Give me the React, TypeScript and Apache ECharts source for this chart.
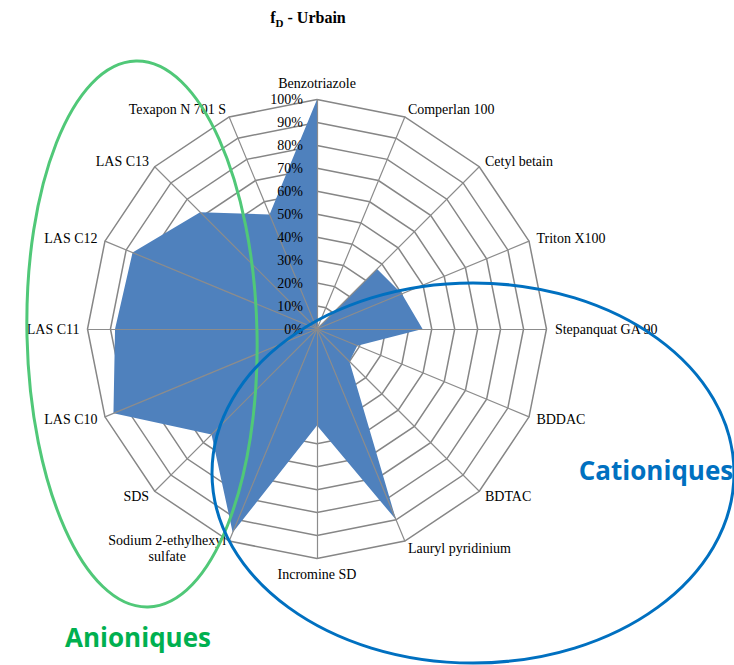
import React, { useEffect, useRef } from "react";
import * as echarts from "echarts";

const indicators = [
  "Benzotriazole",
  "Comperlan 100",
  "Cetyl betain",
  "Triton X100",
  "Stepanquat GA 90",
  "BDDAC",
  "BDTAC",
  "Lauryl pyridinium",
  "Incromine SD",
  "Sodium 2-ethylhexyl\nsulfate",
  "SDS",
  "LAS C10",
  "LAS C11",
  "LAS C12",
  "LAS C13",
  "Texapon N 701 S",
];
const values = [100, 0, 37, 40, 46, 19, 20, 90, 42, 96, 65, 96, 88, 87, 72, 54];
const groupLabels = ["Anioniques", "Cationiques"];

const FONT = "Times New Roman, Liberation Serif, serif";

export default function App() {
  const ref = useRef<HTMLDivElement>(null);
  useEffect(() => {
    if (!ref.current) return;
    const chart = echarts.init(ref.current, null, { renderer: "svg" });
    // ECharts places radar indicators counter-clockwise; reverse (keeping first) for clockwise order
    const order = [0, ...indicators.slice(1).map((_, i) => indicators.length - 1 - i)];
    const ind = order.map((i) => ({ name: indicators[i], max: 100, min: 0 }));
    const vals = order.map((i) => values[i]);
    const radius = 229.5;
    chart.setOption({
      animation: false,
      backgroundColor: "#fff",
      title: {
        text: "{f|f}{d|D}{t| - Urbain}",
        left: 303,
        top: 2,
        textAlign: "center",
        textStyle: {
          rich: {
            f: { fontFamily: FONT, fontWeight: "bold", fontSize: 16, color: "#000" },
            d: { fontFamily: FONT, fontWeight: "bold", fontSize: 11, color: "#000", padding: [10, 0, 0, 0] },
            t: { fontFamily: FONT, fontWeight: "bold", fontSize: 16, color: "#000" },
          },
        },
      },
      radar: [
        {
          center: [317, 329],
          radius,
          shape: "polygon",
          splitNumber: 10,
          startAngle: 90,
          indicator: ind,
          nameGap: 8,
          axisName: {
            color: "#000",
            fontFamily: FONT,
            fontSize: 14,
            formatter: (n: string) =>
              n.split("\n").map((s) => `{a|${s}}`).join("\n"),
            rich: {
              a: { fontFamily: FONT, fontSize: 14, color: "#000", align: "center", lineHeight: 16 },
            },
          },
          splitLine: { lineStyle: { color: "#868686", width: 1.5 } },
          splitArea: { show: false },
          axisLine: { show: false },
          axisTick: { show: false },
          axisLabel: { show: false },
        },
        {
          center: [317, 329],
          radius,
          shape: "polygon",
          splitNumber: 10,
          startAngle: 90,
          z: 5,
          indicator: order.map((_, k) => ({
            name: "",
            max: 100,
            min: 0,
            ...(k === 0 ? { axisLabel: { show: true } } : {}),
          })),
          axisName: { show: false },
          splitLine: { show: false },
          splitArea: { show: false },
          axisLine: { show: true, lineStyle: { color: "#8c8c8c", width: 1.2 } },
          axisTick: { show: false },
          axisLabel: {
            show: false,
            formatter: "{value}%",
            color: "#000",
            fontFamily: FONT,
            fontSize: 14,
            margin: 14,
          },
        },
      ],
      series: [
        {
          type: "radar",
          radarIndex: 0,
          z: 2,
          symbol: "none",
          lineStyle: { width: 0, color: "#4F81BD" },
          areaStyle: { color: "#4F81BD", opacity: 1 },
          data: [{ value: vals, name: "fD - Urbain" }],
        },
      ],
      graphic: [
        {
          type: "ellipse",
          z: 100,
          x: 142,
          y: 334,
          rotation: 0.022,
          shape: { cx: 0, cy: 0, rx: 115, ry: 273 },
          style: { fill: "none", stroke: "#50C878", lineWidth: 3 },
        },
        {
          type: "ellipse",
          z: 100,
          shape: { cx: 473, cy: 473, rx: 261, ry: 190 },
          style: { fill: "none", stroke: "#0070C0", lineWidth: 3 },
        },
        {
          type: "text",
          z: 101,
          x: 138,
          y: 637,
          style: {
            text: groupLabels[0],
            fill: "#00B050",
            font: "bold 26px 'Open Sans', 'Noto Sans', sans-serif",
            textAlign: "center",
            textVerticalAlign: "middle",
          },
        },
        {
          type: "text",
          z: 101,
          x: 656,
          y: 470,
          style: {
            text: groupLabels[1],
            fill: "#0070C0",
            font: "bold 26px 'Open Sans', 'Noto Sans', sans-serif",
            textAlign: "center",
            textVerticalAlign: "middle",
          },
        },
      ],
    });
    return () => chart.dispose();
  }, []);
  return (
    <div
      ref={ref}
      style={{ position: "fixed", left: 0, top: 0, width: 734, height: 665 }}
    />
  );
}
